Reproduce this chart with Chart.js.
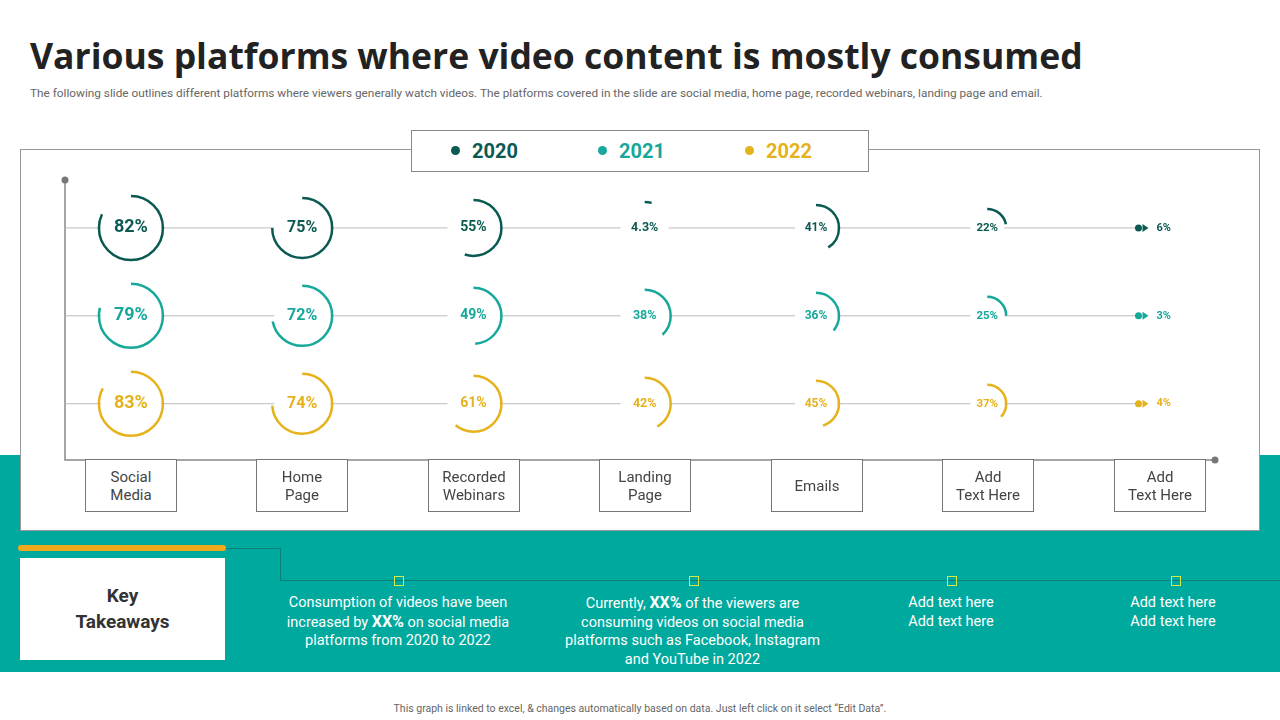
<!DOCTYPE html><html><head><meta charset="utf-8">
<script src="https://cdn.jsdelivr.net/npm/chart.js@4/dist/chart.umd.min.js"></script>
<style>
body{margin:0;width:1280px;height:720px;position:relative;font-family:Roboto,Arial,sans-serif;background:#fff;overflow:hidden}
.abs{position:absolute}
h1{position:absolute;left:30px;top:31px;margin:0;font-size:35.5px;font-weight:700;color:#222;font-family:"Open Sans",Arial,sans-serif}
.cat{position:absolute;top:459px;width:92px;height:53px;border:1px solid #777;background:#fff;display:flex;align-items:center;justify-content:center;text-align:center;font-size:15px;color:#444;line-height:18px;box-sizing:border-box}
.tk{position:absolute;top:594px;color:#fff;font-size:14.5px;text-align:center;line-height:18.5px}
.sq{position:absolute;top:576px;width:8px;height:8px;border:1px solid #d8e64a;}
.dot{display:inline-block;width:9px;height:9px;border-radius:50%;margin-right:12px;vertical-align:middle;position:relative;top:-2px}
</style></head><body>
<h1>Various platforms where video content is mostly consumed</h1>
<div class="abs" style="left:30px;top:86px;font-size:11.8px;color:#666">The following slide outlines different platforms where viewers generally watch videos. The platforms covered in the slide are social media, home page, recorded webinars, landing page and email.</div>
<div class="abs" style="left:0;top:455px;width:1280px;height:217px;background:#00a99d"></div>
<div class="abs" style="left:20px;top:149px;width:1240px;height:382px;background:#fff;border:1px solid #999;box-sizing:border-box"></div>
<canvas id="c" class="abs" style="left:20px;top:150px" width="1240" height="380"></canvas>
<div class="abs" style="left:411px;top:130px;width:458px;height:42px;background:#fff;border:1px solid #888;box-sizing:border-box;display:flex;align-items:center;font-size:20px;font-weight:700">
 <span style="position:absolute;left:39px;color:#0b5a52"><span class="dot" style="background:#0b5a52"></span>2020</span>
 <span style="position:absolute;left:186px;color:#16a89a"><span class="dot" style="background:#16a89a"></span>2021</span>
 <span style="position:absolute;left:333px;color:#e6b21c"><span class="dot" style="background:#e6b21c"></span>2022</span>
</div>
<div id="cats"></div>
<div class="abs" style="left:18px;top:545px;width:208px;height:6px;background:#f0a81c;border-radius:3px"></div>
<div class="abs" style="left:20px;top:558px;width:205px;height:102px;background:#fff;display:flex;align-items:center;justify-content:center;text-align:center;font-size:19px;font-weight:700;color:#333;line-height:26px">Key<br>Takeaways</div>
<div class="abs" style="left:226px;top:548px;width:54px;height:1px;background:#0b7f76"></div>
<div class="abs" style="left:280px;top:548px;width:1px;height:33px;background:#0b7f76"></div>
<div class="abs" style="left:280px;top:580px;width:1000px;height:1px;background:#0b7f76"></div>
<div class="sq" style="left:394px"></div><div class="sq" style="left:689px"></div><div class="sq" style="left:947px"></div><div class="sq" style="left:1171px"></div>
<div class="tk" style="left:270px;width:256px">Consumption of videos have been increased by <b style="font-size:16px">XX%</b> on social media platforms from 2020 to 2022</div>
<div class="tk" style="left:555px;width:275px">Currently, <b style="font-size:16px">XX%</b> of the viewers are consuming videos on social media platforms such as Facebook, Instagram and YouTube in 2022</div>
<div class="tk" style="left:871px;width:160px">Add text here<br>Add text here</div>
<div class="tk" style="left:1093px;width:160px">Add text here<br>Add text here</div>
<div class="abs" style="left:0;top:702px;width:1280px;text-align:center;font-size:10.5px;color:#666">This graph is linked to excel, &amp; changes automatically based on data. Just left click on it select “Edit Data”.</div>
<script>
const categories=["Social\nMedia","Home\nPage","Recorded\nWebinars","Landing\nPage","Emails","Add\nText Here","Add\nText Here"];
const years=["2020","2021","2022"];
const v2020=[82,75,55,4.3,41,22,6];
const v2021=[79,72,49,38,36,25,3];
const v2022=[83,74,61,42,45,37,4];
const colors=["#0b5a52","#16a89a","#e6b21c"];
const radii=[32,30,28,26,23,19,0];
const fonts=[18,16,14,12.5,12,11.5,11];
const series=[v2020,v2021,v2022];
const catX=[131,302,474,645,817,988,1160];
const ch=document.getElementById('cats');
categories.forEach((c,i)=>{const d=document.createElement('div');d.className='cat';d.style.left=(catX[i]-46)+'px';d.innerHTML=c.replace('\n','<br>');ch.appendChild(d);});
const plug={id:'arcs',afterDatasetsDraw(chart){
 const ctx=chart.ctx,a=chart.chartArea,xs=chart.scales.x,ys=chart.scales.y;
 ctx.save();
 ctx.strokeStyle='#888';ctx.lineWidth=1.5;
 ctx.beginPath();ctx.moveTo(a.left,a.top);ctx.lineTo(a.left,a.bottom);ctx.lineTo(a.right,a.bottom);ctx.stroke();
 ctx.fillStyle='#777';[[a.left,a.top],[a.right,a.bottom]].forEach(p=>{ctx.beginPath();ctx.arc(p[0],p[1],3.5,0,7);ctx.fill();});
 categories.forEach((c,i)=>{const x=xs.getPixelForValue(i);ctx.fillStyle='#fff';ctx.strokeStyle='#888';ctx.lineWidth=1;ctx.beginPath();ctx.moveTo(x-5,a.bottom+1);ctx.lineTo(x+5,a.bottom+1);ctx.lineTo(x,a.bottom+8);ctx.closePath();ctx.fill();ctx.stroke();});
 series.forEach((s,r)=>{
  const y=ys.getPixelForValue(r);const col=colors[r];
  ctx.strokeStyle='#bbb';ctx.lineWidth=1;ctx.beginPath();ctx.moveTo(a.left,y);ctx.lineTo(xs.getPixelForValue(6)-20,y);ctx.stroke();
  s.forEach((v,i)=>{
   const x=xs.getPixelForValue(i);
   if(i===6){ctx.fillStyle=col;ctx.beginPath();ctx.arc(x-20,y,3.5,0,7);ctx.fill();ctx.beginPath();ctx.moveTo(x-16,y-4);ctx.lineTo(x-10,y);ctx.lineTo(x-16,y+4);ctx.fill();
    ctx.font='bold 11px Roboto';ctx.textAlign='left';ctx.textBaseline='middle';ctx.fillText(v+'%',x-2,y);return;}
   ctx.fillStyle='#fff';ctx.beginPath();ctx.arc(x,y,radii[i]-2,0,7);ctx.fill();
   ctx.strokeStyle=col;ctx.lineWidth=2.5;ctx.beginPath();ctx.arc(x,y,radii[i],-Math.PI/2,-Math.PI/2+v/100*2*Math.PI);ctx.stroke();
   ctx.fillStyle=col;ctx.font='bold '+fonts[i]+'px Roboto';ctx.textAlign='center';ctx.textBaseline='middle';ctx.fillText(v+'%',x,y);
  });
 });
 ctx.restore();}};
new Chart(document.getElementById('c'),{type:'scatter',
 data:{datasets:years.map((y,r)=>({label:y,data:series[r].map((v,i)=>({x:i,y:r})),pointRadius:0,showLine:false}))},
 options:{responsive:false,animation:false,events:[],layout:{padding:{left:45,right:45,top:30,bottom:70}},
  plugins:{legend:{display:false},tooltip:{enabled:false}},
  scales:{x:{type:'linear',min:-0.385,max:6.33,display:false},y:{type:'linear',reverse:true,min:-0.545,max:2.64,display:false}}},
 plugins:[plug]});
</script></body></html>
